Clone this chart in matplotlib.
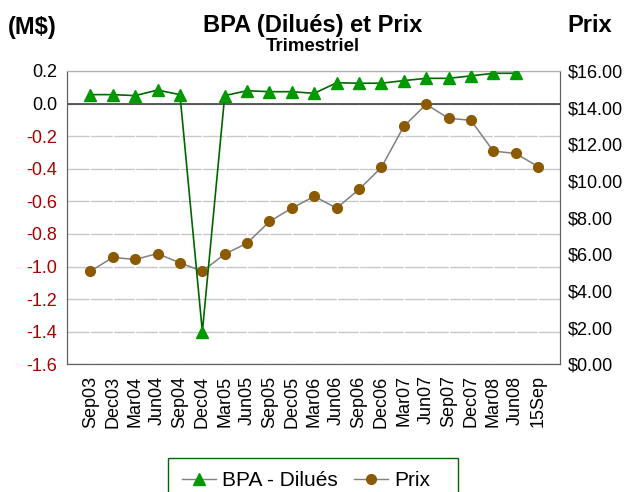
import matplotlib
matplotlib.use('Agg')
import matplotlib.pyplot as plt
from matplotlib.lines import Line2D
from matplotlib.patches import Rectangle
from matplotlib.ticker import FuncFormatter
import numpy as np

plt.rcParams['font.family'] = ['Liberation Sans', 'DejaVu Sans']

# quarterly data
quarters = ['Sep03', 'Dec03', 'Mar04', 'Jun04', 'Sep04', 'Dec04', 'Mar05', 'Jun05',
            'Sep05', 'Dec05', 'Mar06', 'Jun06', 'Sep06', 'Dec06', 'Mar07', 'Jun07',
            'Sep07', 'Dec07', 'Mar08', 'Jun08', '15Sep']
bpa = [0.055, 0.055, 0.049, 0.083, 0.055, -1.40, 0.049, 0.079, 0.073, 0.073, 0.063,
       0.128, 0.125, 0.125, 0.141, 0.155, 0.155, 0.17, 0.186, 0.186, None]
prix = [5.08, 5.83, 5.72, 6.04, 5.53, 5.08, 6.01, 6.61, 7.79, 8.52, 9.16, 8.52,
        9.54, 10.74, 12.98, 14.18, 13.42, 13.31, 11.63, 11.50, 10.79]

left_ticks = [0.2, 0.0, -0.2, -0.4, -0.6, -0.8, -1.0, -1.2, -1.4, -1.6]
right_ticks = [0, 2, 4, 6, 8, 10, 12, 14, 16]

x = np.arange(len(quarters))
bpa_arr = np.array([np.nan if v is None else v for v in bpa])

W, H = 625, 492
fig = plt.figure(figsize=(W / 100, H / 100), dpi=100)
ax = fig.add_axes([66.5 / W, 1 - 364.3 / H, (560 - 66.5) / W, (364.3 - 71) / H])
ax2 = ax.twinx()
ax.set_zorder(ax2.get_zorder() + 1)
ax.patch.set_visible(False)
ax2.set_facecolor('#f0f0f0')

ax.set_xlim(-1.07, 20.98)
ax.set_ylim(-1.6, 0.2)
ax2.set_ylim(0, 16)

# grid lives on the back axes so the price markers sit on top of it
def to_prix(v):
    lo, hi = ax.get_ylim()
    p0, p1 = ax2.get_ylim()
    return p0 + (v - lo) / (hi - lo) * (p1 - p0)

for yv in left_ticks:
    ax2.axhline(to_prix(yv), color='#c8c8c8', lw=1, zorder=0)
for xv in x:
    ax2.axvline(xv, color='white', lw=1, zorder=0)
ax2.axhline(to_prix(0), color='#404040', lw=1.2, zorder=1)

ax.plot(x, bpa_arr, color='#006600', lw=1.2, marker='^', markersize=8,
        markerfacecolor='#009900', markeredgecolor='#009900', zorder=4)
ax2.plot(x, prix, color='#808080', lw=1.1, marker='o', markersize=7,
         markerfacecolor='#8c5a00', markeredgecolor='#8c5a00', zorder=3)

ax.set_yticks(left_ticks)
ax.set_yticklabels([f'{v:.1f}' for v in left_ticks], fontsize=13)
for lab, v in zip(ax.get_yticklabels(), left_ticks):
    lab.set_color('#aa0000' if v < 0 else 'black')
ax2.set_yticks(right_ticks)
ax2.yaxis.set_major_formatter(FuncFormatter(lambda v, p: f'${v:.2f}'))
ax2.tick_params(axis='y', labelsize=13, length=0, pad=5.8)
ax.tick_params(axis='y', length=0, pad=6.8)

ax.set_xticks(x)
ax.set_xticklabels(quarters, rotation=90, fontsize=13)
ax.tick_params(axis='x', length=0, pad=8)

for a in (ax, ax2):
    a.spines['top'].set_color('#b0b0b0')
    for side in ['left', 'right', 'bottom']:
        a.spines[side].set_color('#606060')

fig.text(0.5, 1 - 32 / H, 'BPA (Dilués) et Prix', ha='center', va='baseline',
         fontsize=17, fontweight='bold')
fig.text(0.5, 1 - 50.7 / H, 'Trimestriel', ha='center', va='baseline',
         fontsize=13.4, fontweight='bold')
fig.text(8 / W, 1 - 34 / H, '(M$)', ha='left', va='baseline', fontsize=17, fontweight='bold')
fig.text(612 / W, 1 - 32 / H, 'Prix', ha='right', va='baseline', fontsize=17, fontweight='bold')

# legend at the bottom, frame drawn separately (it runs off the bottom edge)
handles = [
    Line2D([], [], color='#808080', lw=1, marker='^', markersize=8,
           markerfacecolor='#009900', markeredgecolor='#009900', label='BPA - Dilués'),
    Line2D([], [], color='#808080', lw=1, marker='o', markersize=7,
           markerfacecolor='#8c5a00', markeredgecolor='#8c5a00', label='Prix'),
]
fig.legend(handles=handles, loc='upper center', bbox_to_anchor=(0.49, 1 - 461 / H),
           ncol=2, fontsize=15, frameon=False, handlelength=1.6,
           handletextpad=0.3, columnspacing=0.8, borderpad=0.0)
fig.patches.append(Rectangle((167.5 / W, -0.05), (458 - 167.5) / W, 0.05 + 1 - 457.5 / H,
                             transform=fig.transFigure, fill=False,
                             edgecolor='#006600', lw=1))

fig.savefig('out.png', dpi=100)
